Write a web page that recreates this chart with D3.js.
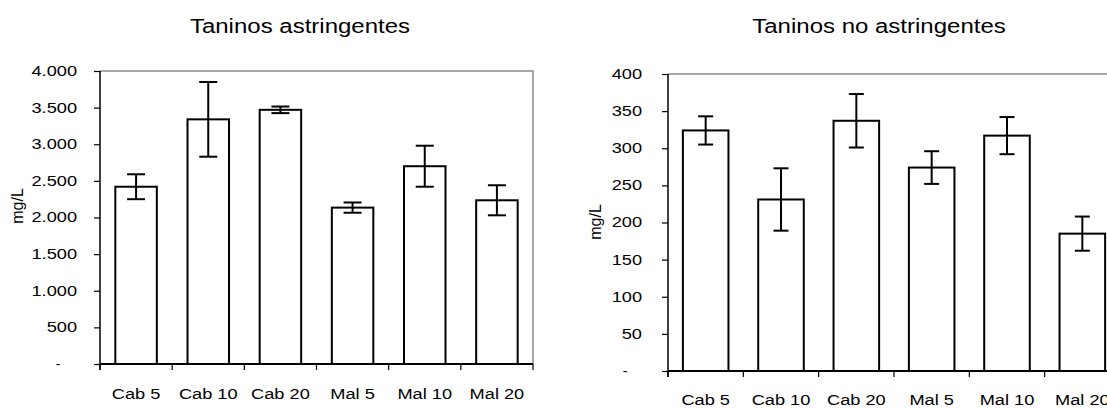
<!DOCTYPE html>
<html>
<head>
<meta charset="utf-8">
<script src="https://cdn.jsdelivr.net/npm/d3@7"></script>
<style>
  body { margin: 0; background: #fff; }
  svg { display: block; overflow: hidden; }
  .title { font-family: "Liberation Sans", Arial, sans-serif; font-size: 20px; fill: #000; }
  .tick text, .zero { font-family: "Liberation Sans", Arial, sans-serif; font-size: 14px; fill: #000; }
  .ylab { font-family: "Liberation Sans", Arial, sans-serif; font-size: 16px; fill: #000; }
</style>
</head>
<body>
<svg class="d3" width="1107" height="408"></svg>
<script>
// categories shared by both charts
var categories = ["Cab 5", "Cab 10", "Cab 20", "Mal 5", "Mal 10", "Mal 20"];

// Taninos astringentes (mg/L), mean and error
var astrValues = [2420, 3340, 3470, 2135, 2700, 2235];
var astrErrors = [170, 510, 45, 70, 280, 205];
var astrTicks = [0, 500, 1000, 1500, 2000, 2500, 3000, 3500, 4000];

// Taninos no astringentes (mg/L), mean and error
var noAstrValues = [324, 231, 337, 274, 317, 185];
var noAstrErrors = [19, 42, 36, 22, 25, 23];
var noAstrTicks = [0, 50, 100, 150, 200, 250, 300, 350, 400];

var svg = d3.select("svg.d3");

// spanish style thousands separator, zero shown as a dash
var es = d3.formatLocale({decimal: ",", thousands: ".", grouping: [3], currency: ["", ""]});
var fmt = es.format(",d");
function tickFmt(d) { return d === 0 ? "" : fmt(d); }

// the source picture is wider than tall, stretch text to match
function stretch(sel, k) {
  sel.each(function() {
    var w = this.getComputedTextLength();
    d3.select(this).attr("textLength", w * k).attr("lengthAdjust", "spacingAndGlyphs");
  });
}

function drawChart(cfg) {
  var x = d3.scaleBand().domain(categories).range([cfg.left, cfg.right]);
  var y = d3.scaleLinear().domain([0, cfg.max]).range([cfg.bottom, cfg.top]);

  var g = svg.append("g");

  // grey frame top and right
  g.append("path")
      .attr("d", "M" + cfg.left + "," + cfg.top + "H" + cfg.right + "V" + cfg.bottom)
      .attr("fill", "none")
      .attr("stroke", "#8c8c8c")
      .attr("stroke-width", 1.5);

  var bw = x.bandwidth() * cfg.barRatio;

  g.selectAll("rect.bar")
      .data(cfg.values)
    .enter().append("rect")
      .attr("class", "bar")
      .attr("x", function(d, i) { return x(categories[i]) + (x.bandwidth() - bw) / 2; })
      .attr("y", function(d) { return y(d); })
      .attr("width", bw)
      .attr("height", function(d) { return y(0) - y(d); })
      .attr("fill", "#fff")
      .attr("stroke", "#000")
      .attr("stroke-width", 2);

  // error bars
  var eb = g.selectAll("g.err")
      .data(cfg.values)
    .enter().append("g")
      .attr("class", "err")
      .attr("stroke", "#000")
      .attr("stroke-width", 2);

  function cx(i) { return x(categories[i]) + x.bandwidth() / 2; }

  eb.append("line")
      .attr("x1", function(d, i) { return cx(i); })
      .attr("x2", function(d, i) { return cx(i); })
      .attr("y1", function(d, i) { return y(d + cfg.errors[i]); })
      .attr("y2", function(d, i) { return y(d - cfg.errors[i]); });
  eb.append("line")
      .attr("x1", function(d, i) { return cx(i) - cfg.cap; })
      .attr("x2", function(d, i) { return cx(i) + cfg.cap; })
      .attr("y1", function(d, i) { return y(d + cfg.errors[i]); })
      .attr("y2", function(d, i) { return y(d + cfg.errors[i]); });
  eb.append("line")
      .attr("x1", function(d, i) { return cx(i) - cfg.cap; })
      .attr("x2", function(d, i) { return cx(i) + cfg.cap; })
      .attr("y1", function(d, i) { return y(d - cfg.errors[i]); })
      .attr("y2", function(d, i) { return y(d - cfg.errors[i]); });

  // y axis
  var yAxis = g.append("g")
      .attr("transform", "translate(" + cfg.left + ",0)")
      .call(d3.axisLeft(y).tickValues(cfg.ticks).tickFormat(tickFmt).tickSize(6).tickPadding(cfg.labelGap));
  yAxis.select(".domain").attr("d", "M0," + cfg.top + "V" + (cfg.bottom + 6)).attr("stroke", "#000").attr("stroke-width", 1.5);
  yAxis.selectAll(".tick line").attr("stroke", "#000").attr("stroke-width", 1.2);
  stretch(yAxis.selectAll(".tick text"), 1.3);

  // zero shown as a dash
  g.append("text")
      .attr("class", "zero")
      .attr("x", cfg.dashX)
      .attr("y", y(0) + 5)
      .attr("text-anchor", "middle")
      .text("-");

  // x axis with ticks between categories
  var xAxis = g.append("g")
      .attr("transform", "translate(0," + cfg.bottom + ")")
      .call(d3.axisBottom(x).tickSize(0).tickPadding(cfg.catGap));
  xAxis.select(".domain").attr("d", "M" + cfg.left + ",0H" + cfg.right).attr("stroke", "#000").attr("stroke-width", 2);
  stretch(xAxis.selectAll(".tick text"), 1.3);

  g.selectAll("line.xtick")
      .data(d3.range(categories.length + 1))
    .enter().append("line")
      .attr("class", "xtick")
      .attr("x1", function(i) { return cfg.left + i * x.step(); })
      .attr("x2", function(i) { return cfg.left + i * x.step(); })
      .attr("y1", cfg.bottom)
      .attr("y2", cfg.bottom + 6)
      .attr("stroke", "#000")
      .attr("stroke-width", 1.2);

  // y title
  g.append("text")
      .attr("class", "ylab")
      .attr("transform", "translate(" + cfg.ylabX + "," + cfg.ylabY + ") rotate(-90)")
      .attr("text-anchor", "middle")
      .text("mg/L");

  // chart title
  var t = g.append("text")
      .attr("class", "title")
      .attr("x", cfg.titleX)
      .attr("y", 33)
      .attr("text-anchor", "middle")
      .text(cfg.title);
  stretch(t, 1.2);
}

drawChart({
  title: "Taninos astringentes",
  values: astrValues, errors: astrErrors, ticks: astrTicks, max: 4000,
  left: 100, right: 533, top: 71, bottom: 364,
  barRatio: 0.575, cap: 9, labelGap: 17, catGap: 25, dashX: 58,
  ylabX: 23, ylabY: 206, titleX: 300
});

drawChart({
  title: "Taninos no astringentes",
  values: noAstrValues, errors: noAstrErrors, ticks: noAstrTicks, max: 400,
  left: 668, right: 1120, top: 74, bottom: 371,
  barRatio: 0.605, cap: 7.5, labelGap: 20, catGap: 24, dashX: 625,
  ylabX: 601, ylabY: 222, titleX: 879
});
</script>
</body>
</html>
